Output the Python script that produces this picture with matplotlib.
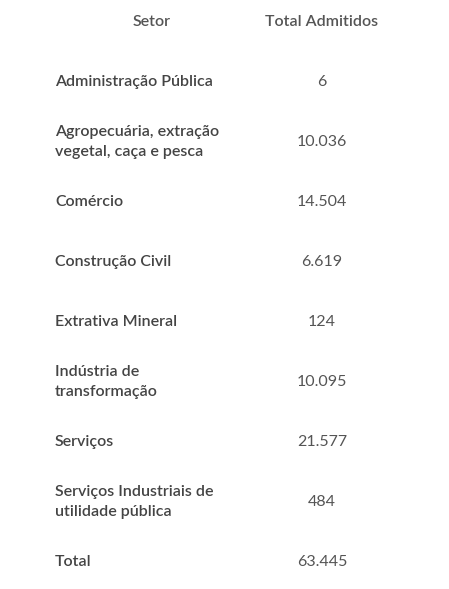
import matplotlib
matplotlib.use("Agg")
import matplotlib.pyplot as plt

header = ["Setor", "Total Admitidos"]
setores = ["Administração Pública", "Agropecuária, extração\nvegetal, caça e pesca", "Comércio",
           "Construção Civil", "Extrativa Mineral", "Indústria de\ntransformação", "Serviços",
           "Serviços Industriais de\nutilidade pública", "Total"]
admitidos = ["6", "10.036", "14.504", "6.619", "124", "10.095", "21.577", "484", "63.445"]

W, H = 449, 589
fig = plt.figure(figsize=(W/100, H/100), dpi=100)
fig.patch.set_facecolor("white")
plt.rcParams['font.family'] = ['Lato', 'DejaVu Sans']

def T(x, y, s, **kw):
    fig.text(x/W, 1 - y/H, s, **kw)

T(152, 22, header[0], ha="center", va="center", fontsize=11.5, weight="semibold", color="#555555")
T(322, 22, header[1], ha="center", va="center", fontsize=11.5, weight="semibold", color="#555555")
for i, (s, v) in enumerate(zip(setores, admitidos)):
    y = 82 + 60*i
    T(55, y, s, ha="left", va="center", fontsize=11.5, weight="semibold", color="#444444", linespacing=1.6)
    T(322, y, v, ha="center", va="center", fontsize=11.5, color="#555555")

fig.savefig("out.png", dpi=100, facecolor="white")
